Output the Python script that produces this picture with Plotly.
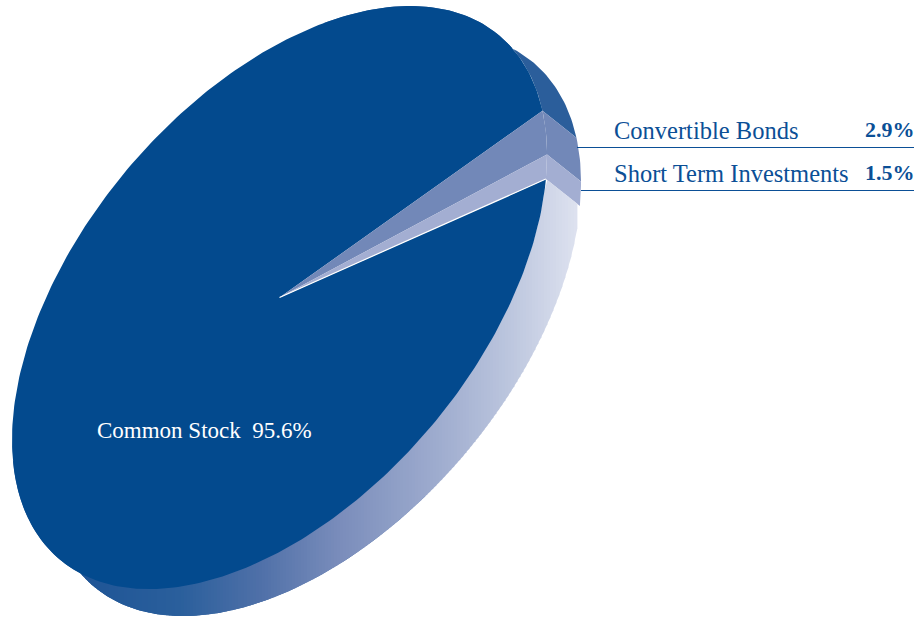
import math
import plotly.graph_objects as go

# Portfolio allocation, in percent
categories = ["Short Term Investments", "Convertible Bonds", "Common Stock"]
shares = [1.5, 2.9, 95.6]

# Tilted disc: centre, semi-axes, axis rotation, thickness offset (page pixels, y down)
CX, CY = 279.5, 297.5
A, B = 342.0, 199.0
ROT = math.radians(50)
DEPTH = (34.0, 27.0)
START_DEG = -40.0

TOP_COLORS = {"Short Term Investments": "#a3aed2",
              "Convertible Bonds": "#7288b8",
              "Common Stock": "#034a8e"}
BACK_RIM = "#2b5e9b"
# Horizontal shading of the front rim: (x position, colour)
RIM_STOPS = [(85, (0x1f, 0x55, 0x96)), (180, (0x2a, 0x5f, 0x9c)), (260, (0x4f, 0x70, 0xa8)),
             (340, (0x7a, 0x8d, 0xbb)), (450, (0xa3, 0xb0, 0xd1)), (510, (0xbc, 0xc6, 0xde)),
             (580, (0xdf, 0xe3, 0xf0))]
INK = "#0b4f96"

# Covariance-style terms of the ellipse, used to find its lower edge at a given x
SXX = (A * math.cos(ROT)) ** 2 + (B * math.sin(ROT)) ** 2
SYY = (A * math.sin(ROT)) ** 2 + (B * math.cos(ROT)) ** 2
SXY = (A * A - B * B) * math.sin(ROT) * math.cos(ROT)


def edge(deg):
    """Point on the disc's top rim for a parametric angle in degrees."""
    t = math.radians(deg)
    u, v = A * math.cos(t), B * math.sin(t)
    return (CX + u * math.cos(ROT) - v * math.sin(ROT),
            CY - (u * math.sin(ROT) + v * math.cos(ROT)))


def lower_y(x, cx=CX, cy=CY):
    """Lower edge of an ellipse centred at (cx, cy) at column x, or None outside it."""
    dx = x - cx
    rest = 1 - dx * dx / SXX
    if rest < 0:
        return None
    half = math.sqrt((SYY - SXY * SXY / SXX) * rest)
    return cy - (SXY / SXX * dx - half)


def arc(d0, d1):
    n = max(2, int(abs(d1 - d0)) + 1)
    return [edge(d0 + (d1 - d0) * i / (n - 1)) for i in range(n)]


def swept(d0, d1):
    """Wall outline between two angles: the top rim and its offset copy."""
    top = arc(d0, d1)
    return top + [(x + DEPTH[0], y + DEPTH[1]) for x, y in reversed(top)]


def rim_color(x):
    if x <= RIM_STOPS[0][0]:
        c = RIM_STOPS[0][1]
    elif x >= RIM_STOPS[-1][0]:
        c = RIM_STOPS[-1][1]
    else:
        for (x0, c0), (x1, c1) in zip(RIM_STOPS, RIM_STOPS[1:]):
            if x0 <= x <= x1:
                f = (x - x0) / (x1 - x0)
                c = tuple(round(a + (b - a) * f) for a, b in zip(c0, c1))
                break
    return "rgb(%d,%d,%d)" % c


def poly(points, color, line=None, width=0):
    xs = [p[0] for p in points] + [points[0][0]]
    ys = [p[1] for p in points] + [points[0][1]]
    return go.Scatter(x=xs, y=ys, mode="lines", fill="toself", fillcolor=color,
                      line=dict(color=line or color, width=width),
                      hoverinfo="skip", showlegend=False)


# Angular extent of each slice, from the shares
bounds = []
angle = START_DEG
for share in shares:
    bounds.append((angle, angle + share * 3.6))
    angle += share * 3.6

fig = go.Figure()

# Back wall of the largest slice, then the two small slices' walls
common = bounds[2]
fig.add_trace(poly(swept(common[0], common[0] + 70), BACK_RIM))
fig.add_trace(poly(swept(*bounds[1]), TOP_COLORS[categories[1]]))
fig.add_trace(poly(swept(*bounds[0]), TOP_COLORS[categories[0]]))

# Lower-left end of the wall, where the disc's outline runs straight to its offset copy
fig.add_trace(poly(swept(150, 260), RIM_STOPS[0][1] and rim_color(85)))

# Front wall of the largest slice, shaded in vertical bands running left to right
corner = edge(bounds[0][0])
right_end = corner[0] + DEPTH[0]
slope = DEPTH[1] / DEPTH[0]
BAND = 3


def band_top(x):
    if x >= corner[0]:
        return corner[1] + (x - corner[0]) * slope
    y = lower_y(x)
    return (y if y is not None else CY) - 2


x0 = int(CX + DEPTH[0] - math.sqrt(SXX)) + 1
while x0 < right_end:
    x1 = min(x0 + BAND, right_end)
    b0, b1 = lower_y(x0, CX + DEPTH[0], CY + DEPTH[1]), lower_y(x1, CX + DEPTH[0], CY + DEPTH[1])
    if b0 is not None and b1 is not None and b0 > band_top(x0) and b1 > band_top(x1):
        fig.add_trace(poly([(x0, band_top(x0)), (x1 + 0.4, band_top(x1)), (x1 + 0.4, b1), (x0, b0)],
                           rim_color((x0 + x1) / 2)))
    x0 += BAND

# Top face, largest slice first
for name, (d0, d1) in reversed(list(zip(categories, bounds))):
    pts = [(CX, CY)] + arc(d0, d1)
    fig.add_trace(poly(pts, TOP_COLORS[name]))

# Pale seam under the smallest slice
fig.add_trace(go.Scatter(x=[CX, corner[0]], y=[CY, corner[1]], mode="lines",
                         line=dict(color="#ffffff", width=1.2),
                         hoverinfo="skip", showlegend=False))


def label(x, y, text, color=INK, anchor="left", bold=False, size=24.5):
    return dict(x=x, y=y, xref="x", yref="y", text=f"<b>{text}</b>" if bold else text,
                showarrow=False, xanchor=anchor, yanchor="middle",
                font=dict(family="Liberation Serif", size=size, color=color))


value = dict(zip(categories, shares))
annotations = [
    label(612, 130, "Convertible Bonds"),
    label(917, 129, f"{value['Convertible Bonds']:.1f}%", anchor="right", bold=True, size=22),
    label(612, 173, "Short Term Investments"),
    label(917, 172, f"{value['Short Term Investments']:.1f}%", anchor="right", bold=True, size=22),
    label(95, 430, f"Common Stock&nbsp;&nbsp;{value['Common Stock']:.1f}%", color="#ffffff", size=23),
]

leaders = [dict(type="line", xref="x", yref="y", x0=577, x1=914, y0=147.5, y1=147.5,
                line=dict(color=INK, width=1)),
           dict(type="line", xref="x", yref="y", x0=581, x1=914, y0=190.5, y1=190.5,
                line=dict(color=INK, width=1))]

fig.update_layout(
    width=919, height=619, margin=dict(l=0, r=0, t=0, b=0),
    paper_bgcolor="#ffffff", plot_bgcolor="#ffffff",
    xaxis=dict(range=[0, 919], visible=False, fixedrange=True),
    yaxis=dict(range=[619, 0], visible=False, fixedrange=True),
    annotations=annotations, shapes=leaders, showlegend=False,
)
fig.write_html("out.html", config={"displayModeBar": False})
